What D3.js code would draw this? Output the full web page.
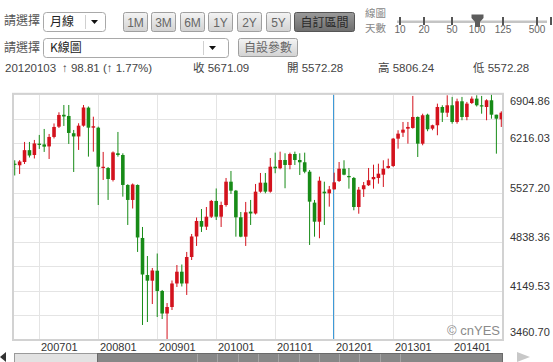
<!DOCTYPE html>
<meta charset="utf-8">
<head>
    <script type="text/javascript" src="https://cdn.jsdelivr.net/npm/d3@7/dist/d3.min.js"></script>
    <style>
        body { margin: 0; background: #fff; }
        svg text { font-family: "Liberation Sans", Arial, "Noto Sans CJK TC", sans-serif; }
        .cjk { font-family: "Noto Sans CJK TC", "Liberation Sans", sans-serif; }
    </style>
</head>
<body>
<div id="chart"></div>
<script>
    // months shown: 200608 .. 201411 (monthly K bars)
    let firstMonth = new Date(2006, 7, 1)
    let lastMonth = new Date(2014, 10, 1)
    let months = d3.timeMonth.range(firstMonth, d3.timeMonth.offset(lastMonth, 1)).map(d3.timeFormat("%Y%m"))

    let open = [5932, 5910, 5956, 6122, 6054, 6213, 6202, 6174, 6307, 6451,
        6618, 6601, 6359, 6314, 6465, 6718, 6437, 6437, 5872, 5872,
        5704, 6078, 6054, 5634, 5424, 5634, 4891, 4372, 4292, 4432,
        4148, 3832, 3923, 4253, 4418, 4253, 4624, 4912, 5129, 5049,
        5189, 5410, 5189, 5353, 5680, 5554, 5181, 4909, 5260, 5234,
        5540, 5666, 5540, 5890, 5868, 5984, 5914, 6068, 5984, 5952,
        5820, 5386, 5119, 5540, 5517, 5572.28, 5690, 5862, 5760, 5732,
        5325, 5574, 5630, 5714, 5732, 5778, 5872, 5900, 6283, 6367,
        6423, 6433, 6587, 6213, 6619, 6423, 6471, 6727, 6647, 6751,
        6517, 6807, 6587, 6783, 6844, 6751, 6727, 6821, 6619, 6555]

    let high = [5980, 5982, 6237, 6237, 6265, 6335, 6419, 6349, 6496, 6653,
        6755, 6755, 6405, 6499, 6755, 6734, 6591, 6451, 6097, 5886,
        6104, 6377, 6078, 5644, 5655, 5641, 5045, 4638, 4470, 4673,
        4162, 3979, 4295, 4512, 4519, 4695, 4947, 5178, 5297, 5325,
        5424, 5585, 5400, 5732, 5830, 5564, 5255, 5396, 5424, 5648,
        5802, 5802, 6012, 6087, 6101, 6078, 6087, 6101, 6078, 6087,
        5844, 5424, 5750, 5680, 5620, 5806.24, 5956, 5980, 5872, 5746,
        5606, 5676, 5872, 5918, 5932, 5980, 6003, 6293, 6401, 6517,
        6517, 6882, 6594, 6633, 6633, 6479, 6774, 6751, 6891, 6868,
        6844, 6868, 6798, 6875, 6891, 6882, 6835, 6904.86, 6619, 6667]

    let low = [5767, 5788, 5928, 6019, 6005, 6139, 6097, 5998, 6286, 6433,
        6461, 6209, 5816, 6125, 6451, 6031, 6101, 5353, 5704, 5424,
        5683, 6031, 5470, 5073, 5304, 4695, 3671, 3713, 3965, 3783,
        3755, 3460.70, 3881, 4204, 4211, 4092, 4582, 4779, 4975, 5003,
        5171, 5143, 5045, 5330, 5508, 4909, 4901, 4779, 5073, 5220,
        5526, 5517, 5526, 5798, 5854, 5588, 5854, 5914, 5774, 5798,
        4793, 4909, 4887, 5073, 5330, 5572.28, 5676, 5770, 5582, 5279,
        5231, 5466, 5620, 5582, 5652, 5606, 5862, 5886, 6143, 6307,
        6213, 6423, 6026, 6190, 6387, 6401, 6331, 6517, 6587, 6493,
        6493, 6541, 6541, 6769, 6734, 6633, 6541, 6563, 6073, 6447]

    let close = [5918, 5963, 6122, 6047, 6216, 6195, 6171, 6307, 6447, 6615,
        6594, 6363, 6314, 6465, 6720, 6437, 6457, 5890, 5889, 5718,
        6090, 6054, 5634, 5424, 5641, 4898, 4379, 4292, 4435, 4148,
        3832, 3923, 4253, 4418, 4253, 4624, 4912, 5129, 5049, 5189,
        5410, 5189, 5353, 5680, 5554, 5181, 4909, 5251, 5234, 5540,
        5666, 5540, 5890, 5868, 5984, 5914, 6068, 5984, 5952, 5820,
        5400, 5119, 5694, 5517, 5572.28, 5671.09, 5862, 5778, 5742, 5325,
        5568, 5630, 5700, 5746, 5792, 5862, 5900, 6283, 6353, 6409,
        6447, 6587, 6213, 6611, 6415, 6471, 6727, 6647, 6751, 6517,
        6807, 6587, 6774, 6844, 6751, 6734, 6821, 6619, 6563, 6647]

    let yTickLabels = ["3460.70", "4149.53", "4838.36", "5527.20", "6216.03", "6904.86"]
    let xTickLabels = ["200701", "200801", "200901", "201001", "201101", "201201", "201301", "201401"]
    let cursorMonth = "201201"

    let sliderLabels = ["10", "20", "50", "100", "125", "500"]
    let rangeButtons = ["1M", "3M", "6M", "1Y", "2Y", "5Y"]

    let plot = { left: 13, right: 503, top: 94.3, bottom: 340 }
    let upColor = "#d3121d"
    let downColor = "#178b17"

    let svg = d3.select("#chart")
        .append("svg")
        .attr("width", 553)
        .attr("height", 362)

    // ---------------- toolbar ----------------

    let grad = svg.append("defs").append("linearGradient")
        .attr("id", "btn").attr("x1", 0).attr("y1", 0).attr("x2", 0).attr("y2", 1)
    grad.append("stop").attr("offset", "0%").attr("stop-color", "#f4f4f4")
    grad.append("stop").attr("offset", "100%").attr("stop-color", "#d2d2d2")

    let gradDark = svg.select("defs").append("linearGradient")
        .attr("id", "btnDark").attr("x1", 0).attr("y1", 0).attr("x2", 0).attr("y2", 1)
    gradDark.append("stop").attr("offset", "0%").attr("stop-color", "#9a9a9a")
    gradDark.append("stop").attr("offset", "100%").attr("stop-color", "#6e6e6e")

    function selectBox(x0, y0, w, h, label, divX) {
        svg.append("rect")
            .attr("x", x0 + 0.5).attr("y", y0 + 0.5).attr("width", w).attr("height", h)
            .attr("rx", 3).attr("fill", "#fff").attr("stroke", "#a9a9a9")
        svg.append("line")
            .attr("x1", divX + 0.5).attr("x2", divX + 0.5).attr("y1", y0 + 3).attr("y2", y0 + h - 2)
            .attr("stroke", "#d0d0d0")
        svg.append("path")
            .attr("d", "M" + (divX + 6) + "," + (y0 + h / 2 - 1.5) + "l7,0l-3.5,4z")
            .attr("fill", "#111")
        svg.append("text")
            .attr("class", "cjk")
            .attr("x", x0 + 7).attr("y", y0 + h / 2 + 4.5)
            .attr("font-size", 12).attr("fill", "#222")
            .text(label)
    }

    svg.append("text").attr("class", "cjk").attr("x", 4).attr("y", 25)
        .attr("font-size", 12).attr("fill", "#555").text("請選擇")
    selectBox(43, 12, 62, 19, "月線", 85)

    svg.append("text").attr("class", "cjk").attr("x", 4).attr("y", 52)
        .attr("font-size", 12).attr("fill", "#555").text("請選擇")
    selectBox(43, 38, 185, 19, "K線圖", 203)

    let btnX = [123, 151, 180, 208, 237, 266]
    rangeButtons.forEach(function (b, i) {
        svg.append("rect")
            .attr("x", btnX[i] + 0.5).attr("y", 12.5).attr("width", 24).attr("height", 19)
            .attr("rx", 2).attr("fill", "url(#btn)").attr("stroke", "#9f9f9f")
        svg.append("text")
            .attr("x", btnX[i] + 12.5).attr("y", 26.5)
            .attr("text-anchor", "middle").attr("font-size", 12).attr("fill", "#666")
            .text(b)
    })

    svg.append("rect")
        .attr("x", 294.5).attr("y", 12.5).attr("width", 60).attr("height", 19)
        .attr("rx", 2).attr("fill", "url(#btnDark)").attr("stroke", "#555")
    svg.append("text").attr("class", "cjk")
        .attr("x", 324.5).attr("y", 26.5).attr("text-anchor", "middle")
        .attr("font-size", 12).attr("fill", "#2a2a2a").text("自訂區間")

    svg.append("rect")
        .attr("x", 238.5).attr("y", 38.5).attr("width", 59).attr("height", 18)
        .attr("rx", 2).attr("fill", "url(#btn)").attr("stroke", "#9f9f9f")
    svg.append("text").attr("class", "cjk")
        .attr("x", 268).attr("y", 52).attr("text-anchor", "middle")
        .attr("font-size", 12).attr("fill", "#666").text("自設參數")

    svg.append("text").attr("class", "cjk").attr("x", 365).attr("y", 16.5)
        .attr("font-size", 10.5).attr("fill", "#888").text("線圖")
    svg.append("text").attr("class", "cjk").attr("x", 365).attr("y", 31.5)
        .attr("font-size", 10.5).attr("fill", "#888").text("天數")

    // slider
    let sliderX = [400, 424, 452, 477, 503, 537]
    svg.append("rect")
        .attr("x", 397).attr("y", 20.5).attr("width", 150).attr("height", 2.5)
        .attr("fill", "#c4c4c4")
    sliderLabels.forEach(function (s, i) {
        svg.append("rect")
            .attr("x", sliderX[i] - 1).attr("y", 17).attr("width", 2).attr("height", 8)
            .attr("fill", "#555")
        svg.append("text")
            .attr("x", sliderX[i]).attr("y", 33)
            .attr("text-anchor", "middle").attr("font-size", 10).attr("fill", "#666")
            .text(s)
    })
    svg.append("rect").attr("x", 550).attr("y", 17).attr("width", 2).attr("height", 8).attr("fill", "#555")
    svg.append("path")
        .attr("d", "M471.5,14.5 L483.5,14.5 L483.5,18 L480,22 L480,27 L475,27 L475,22 L471.5,18 Z")
        .attr("fill", "#5c5c5c")

    // info row
    let info = [
        { x: 5, t: "20120103" },
        { x: 62, t: "↑ 98.81 (↑ 1.77%)" },
        { x: 193, t: "收 5671.09" },
        { x: 287, t: "開 5572.28" },
        { x: 378, t: "高 5806.24" },
        { x: 473, t: "低 5572.28" }
    ]
    info.forEach(function (d) {
        svg.append("text")
            .attr("x", d.x).attr("y", 72)
            .attr("font-size", 11.5).attr("fill", "#444")
            .text(d.t)
    })

    // ---------------- chart ----------------

    let x = d3.scaleBand()
        .domain(months)
        .range([12.25, 503.75])
        .paddingInner(0.27)
        .paddingOuter(0.135)

    let cx = function (m) { return x(m) + x.bandwidth() / 2 }

    let y = d3.scaleLinear()
        .domain([+yTickLabels[0], +yTickLabels[yTickLabels.length - 1]])
        .range([plot.bottom, plot.top])

    let grid = svg.append("g")

    // horizontal grid: 10 bands, labels on every second line
    let hLines = d3.range(0, 11).map(function (i) {
        return y.domain()[0] + i * (y.domain()[1] - y.domain()[0]) / 10
    })
    grid.selectAll(".hg")
        .data(hLines)
        .enter()
        .append("line")
        .attr("x1", plot.left).attr("x2", plot.right)
        .attr("y1", function (d) { return Math.round(y(d)) + 0.5 })
        .attr("y2", function (d) { return Math.round(y(d)) + 0.5 })
        .attr("stroke", "#e4e4e4")

    grid.selectAll(".vg")
        .data(xTickLabels)
        .enter()
        .append("line")
        .attr("x1", function (d) { return Math.round(cx(d)) + 0.5 })
        .attr("x2", function (d) { return Math.round(cx(d)) + 0.5 })
        .attr("y1", plot.top).attr("y2", plot.bottom)
        .attr("stroke", "#e4e4e4")

    // cursor line
    svg.append("line")
        .attr("x1", Math.round(cx(cursorMonth)) - 0.5)
        .attr("x2", Math.round(cx(cursorMonth)) - 0.5)
        .attr("y1", plot.top).attr("y2", plot.bottom)
        .attr("stroke", "#3d9ad8")

    let bars = months.map(function (m, i) {
        return { m: m, o: open[i], h: high[i], l: low[i], c: close[i] }
    })

    let candles = svg.append("g")
        .selectAll("g")
        .data(bars)
        .enter()
        .append("g")

    candles.append("line")
        .attr("x1", function (d) { return cx(d.m) })
        .attr("x2", function (d) { return cx(d.m) })
        .attr("y1", function (d) { return y(d.h) })
        .attr("y2", function (d) { return y(d.l) })
        .attr("stroke", function (d) { return d.c >= d.o ? upColor : downColor })
        .attr("stroke-width", 1)

    candles.append("rect")
        .attr("x", function (d) { return x(d.m) })
        .attr("width", x.bandwidth())
        .attr("y", function (d) { return y(Math.max(d.o, d.c)) })
        .attr("height", function (d) { return Math.max(1.2, Math.abs(y(d.o) - y(d.c))) })
        .attr("fill", function (d) { return d.c >= d.o ? upColor : downColor })

    // frame
    svg.append("rect")
        .attr("x", plot.left).attr("y", plot.top - 0.5)
        .attr("width", plot.right - plot.left).attr("height", plot.bottom - plot.top + 0.5)
        .attr("fill", "none").attr("stroke", "#d2d2d2").attr("stroke-width", 2)

    // y labels
    yTickLabels.forEach(function (t, i) {
        let yy = Math.round(y(+t)) - 1
        if (i === 0) yy = 336
        if (i === yTickLabels.length - 1) yy = 105
        svg.append("text")
            .attr("x", 510).attr("y", yy)
            .attr("font-size", 11).attr("fill", "#333")
            .text(t)
    })

    // x labels
    xTickLabels.forEach(function (t) {
        svg.append("text")
            .attr("x", Math.round(cx(t)) + 2).attr("y", 351)
            .attr("font-size", 11).attr("fill", "#333")
            .text(t)
    })

    svg.append("text")
        .attr("x", 500).attr("y", 335)
        .attr("text-anchor", "end").attr("font-size", 13).attr("fill", "#8a8a8a")
        .text("© cnYES")

    // navigator bar at the bottom
    svg.append("path").attr("d", "M0,357 L6,352 L6,362 Z").attr("fill", "#333")
    svg.append("rect")
        .attr("x", 14.5).attr("y", 353.5).attr("width", 83).attr("height", 10)
        .attr("fill", "#e2e2e2").attr("stroke", "#9a9a9a")
    svg.append("rect")
        .attr("x", 97.5).attr("y", 353.5).attr("width", 405).attr("height", 10)
        .attr("fill", "#878787").attr("stroke", "#6a6a6a")
    d3.range(197, 402, 20.3).forEach(function (gx) {
        svg.append("line")
            .attr("x1", Math.round(gx) + 0.5).attr("x2", Math.round(gx) + 0.5)
            .attr("y1", 354).attr("y2", 362)
            .attr("stroke", "#a4a4a4")
    })
    svg.append("path").attr("d", "M517,352 L530,357 L517,362 Z").attr("fill", "#c8c8c8")
</script>
</body>
</html>
